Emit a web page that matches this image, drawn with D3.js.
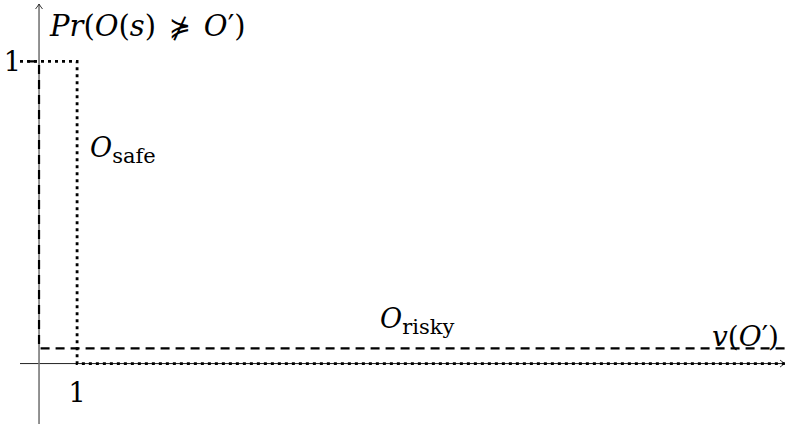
<!DOCTYPE html>
<html><head><meta charset="utf-8">
<script src="https://cdn.jsdelivr.net/npm/d3@7"></script>
<style>body{margin:0;background:#fff}</style>
</head><body><svg id="chart" width="790" height="428"></svg>
<script>
// Axis extents in data units
const xExtent = [-0.5, 19.6];
const yExtent = [-0.2, 1.19];
const xTicks = [1];
const yTicks = [1];
const xTickLabels = ["1"];
const yTickLabels = ["1"];

// Step curves: Pr(O(s) not worse than O') against v(O')
const safeX = [-0.5, 1, 1, 19.6];
const safeY = [1, 1, 0, 0];
const riskyX = [-0.3, 0, 0, 19.6];
const riskyY = [1, 1, 0.05, 0.05];

const svg = d3.select("#chart");
const x = d3.scaleLinear().domain([-0.5, 19.6]).range([20, 785]);
const y = d3.scaleLinear().domain([-0.2, 1.2]).range([424, 1]);

const serif = "DejaVu Serif";

// arrow head in the TikZ "->" style
const defs = svg.append("defs");
defs.append("marker").attr("id", "arr")
  .attr("viewBox", "-8 -5 10 10").attr("refX", 0).attr("refY", 0)
  .attr("markerWidth", 10).attr("markerHeight", 10)
  .attr("markerUnits", "userSpaceOnUse").attr("orient", "auto")
  .append("path").attr("d", "M-5,-3.5 Q-1.5,-0.8 0,0 Q-1.5,0.8 -5,3.5")
  .attr("fill", "none").attr("stroke", "#222").attr("stroke-width", 0.9);

// axes
svg.append("line")
  .attr("x1", x(xExtent[0])).attr("x2", x(xExtent[1]))
  .attr("y1", y(0)).attr("y2", y(0))
  .attr("stroke", "#222").attr("stroke-width", 1)
  .attr("marker-end", "url(#arr)");
svg.append("line")
  .attr("x1", x(0)).attr("x2", x(0))
  .attr("y1", y(yExtent[0])).attr("y2", y(yExtent[1]))
  .attr("stroke", "#777").attr("stroke-width", 1.6)
  .attr("marker-end", "url(#arr)");

const line = d3.line().x(d => x(d[0])).y(d => y(d[1]));

// risky outcome: dashed
svg.append("path")
  .datum(d3.zip(riskyX, riskyY))
  .attr("d", line).attr("fill", "none")
  .attr("stroke", "#000").attr("stroke-width", 2.2)
  .attr("stroke-dasharray", "9,6");

// safe outcome: dotted
svg.append("path")
  .datum(d3.zip(safeX, safeY))
  .attr("d", line).attr("fill", "none")
  .attr("stroke", "#000").attr("stroke-width", 2.8)
  .attr("stroke-dasharray", "3,4");

// tick labels
svg.selectAll(".xt").data(xTicks).enter().append("text")
  .attr("x", (d) => x(d)).attr("y", y(0) + 38)
  .attr("text-anchor", "middle")
  .style("font-family", serif).style("font-size", "27px")
  .text((d, i) => xTickLabels[i]);
svg.selectAll(".yt").data(yTicks).enter().append("text")
  .attr("x", x(0) - 18).attr("y", (d) => y(d) + 10)
  .attr("text-anchor", "end")
  .style("font-family", serif).style("font-size", "27px")
  .text((d, i) => yTickLabels[i]);

// axis titles
const yTitle = svg.append("text")
  .attr("x", 50).attr("y", 36)
  .style("font-family", serif).style("font-size", "29px").style("font-style", "italic");
yTitle.append("tspan").text("Pr");
yTitle.append("tspan").style("font-style", "normal").text("(");
yTitle.append("tspan").text("O");
yTitle.append("tspan").style("font-style", "normal").text("(");
yTitle.append("tspan").text("s");
yTitle.append("tspan").style("font-style", "normal").text(")");
yTitle.append("tspan").attr("dx", 13).style("font-style", "normal").style("font-family", "DejaVu Sans").style("font-size", "26px").text("\u22E1");
yTitle.append("tspan").attr("dx", 13).text("O");
yTitle.append("tspan").style("font-style", "normal").text("\u2032)");

const xTitle = svg.append("text")
  .attr("x", 712).attr("y", 346)
  .style("font-family", serif).style("font-size", "28px").style("font-style", "italic");
xTitle.append("tspan").text("v");
xTitle.append("tspan").style("font-style", "normal").text("(");
xTitle.append("tspan").text("O");
xTitle.append("tspan").style("font-style", "normal").text("\u2032)");

// series labels
function seriesLabel(px, py, sub) {
  const t = svg.append("text").attr("x", px).attr("y", py)
    .style("font-family", serif).style("font-size", "27px");
  t.append("tspan").style("font-style", "italic").text("O");
  t.append("tspan").attr("dy", 6).style("font-size", "21px").text(sub);
}
seriesLabel(90, 157, "safe");
seriesLabel(380, 328, "risky");
</script></body></html>
